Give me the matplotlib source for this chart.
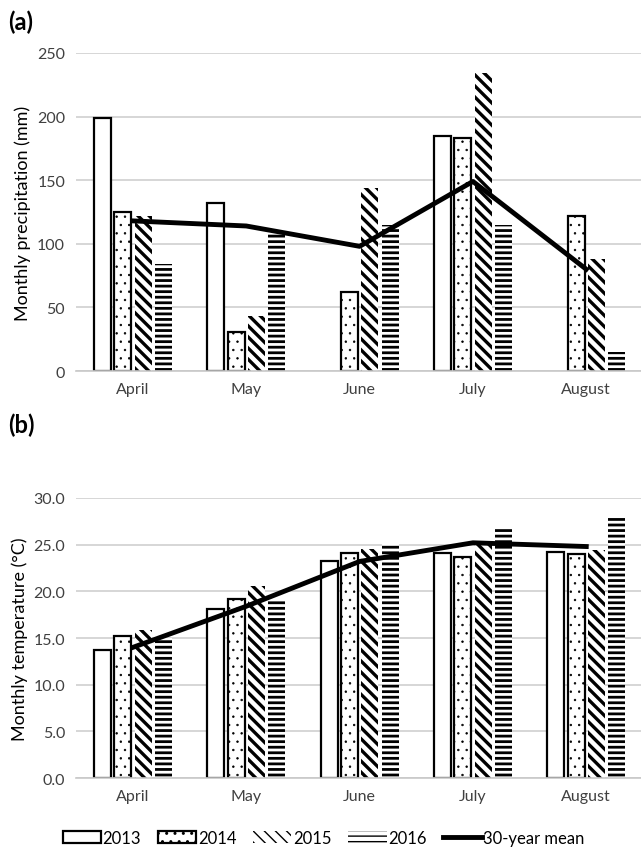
import numpy as np
import matplotlib
matplotlib.use("Agg")
from matplotlib import pyplot as plt

plt.rcParams['font.family'] = ['Lato', 'DejaVu Sans']

months = ["April", "May", "June", "July", "August"]
years = ["2013", "2014", "2015", "2016"]

# monthly precipitation (mm), nan = no bar
prec_2013 = [199, 132, np.nan, 185, np.nan]
prec_2014 = [125, 31, 62, 183, 122]
prec_2015 = [122, 43, 144, 234, 88]
prec_2016 = [84, 108, 115, 115, 15]
prec_mean = [118, 114, 98, 149, 80]

# monthly temperature (°C)
temp_2013 = [13.7, 18.1, 23.3, 24.1, 24.2]
temp_2014 = [15.2, 19.2, 24.1, 23.7, 24.0]
temp_2015 = [15.9, 20.6, 24.5, 25.3, 24.4]
temp_2016 = [15.0, 19.0, 25.1, 26.8, 28.0]
temp_mean = [14.0, 18.4, 23.2, 25.2, 24.8]

styles = [
    (dict(facecolor='white', edgecolor='black', linewidth=1.6, hatch=None), 1.0),
    (dict(facecolor='white', edgecolor='black', linewidth=1.6, hatch='..'), 0.5),
    (dict(facecolor='white', edgecolor='black', linewidth=0, hatch='\\\\\\'), 2.4),
    (dict(facecolor='white', edgecolor='black', linewidth=0, hatch='---'), 2.0),
]
txtcol = '#404040'

fig = plt.figure(figsize=(6.41, 8.54), dpi=100)
ax1 = fig.add_axes([0.119, 0.5644, 0.884, 0.3724])
ax2 = fig.add_axes([0.119, 0.0878, 0.884, 0.3279])

x = np.arange(len(months))
step = 0.18
width = 0.15


def draw(ax, series, mean, yticks, fmt, ylabel):
    handles = []
    for i, (vals, (st, hlw)) in enumerate(zip(series, styles)):
        with plt.rc_context({'hatch.linewidth': hlw}):
            h = ax.bar(x + (i - 1.5) * step, vals, width, label=years[i], zorder=2, **st)
        handles.append(h)
    ln, = ax.plot(x, mean, color='black', lw=3.5, label='30-year mean', zorder=3)
    handles.append(ln)
    ax.set_xlim(-0.5, 4.5)
    ax.set_ylim(yticks[0], yticks[-1])
    ax.set_yticks(yticks)
    ax.set_yticklabels([fmt.format(v) for v in yticks])
    ax.set_xticks(x)
    ax.set_xticklabels(months)
    ax.grid(axis='y', color='#d0d0d0', lw=1.2, zorder=0)
    for s in ['top', 'right', 'left']:
        ax.spines[s].set_visible(False)
    ax.spines['bottom'].set_color('#c8c8c8')
    ax.spines['bottom'].set_linewidth(1.2)
    ax.tick_params(length=0, labelsize=11.5, colors=txtcol, pad=8)
    ax.set_ylabel(ylabel, fontsize=13, color='black')
    ax.set_axisbelow(True)
    return handles


draw(ax1, [prec_2013, prec_2014, prec_2015, prec_2016], prec_mean,
     [0, 50, 100, 150, 200, 250], "{:.0f}", "Monthly precipitation (mm)")
handles = draw(ax2, [temp_2013, temp_2014, temp_2015, temp_2016], temp_mean,
               [0, 5, 10, 15, 20, 25, 30], "{:.1f}", "Monthly temperature (°C)")

fig.text(0.012, 0.965, "(a)", fontsize=17, fontweight='bold')
fig.text(0.012, 0.493, "(b)", fontsize=17, fontweight='bold')

fig.legend(handles, years + ['30-year mean'], loc='center', bbox_to_anchor=(0.505, 0.018),
           ncol=5, frameon=False, fontsize=12, handlelength=2.3, handleheight=0.7,
           handletextpad=0.1, columnspacing=1.0, labelcolor='black')

fig.savefig("out.png", dpi=100)
